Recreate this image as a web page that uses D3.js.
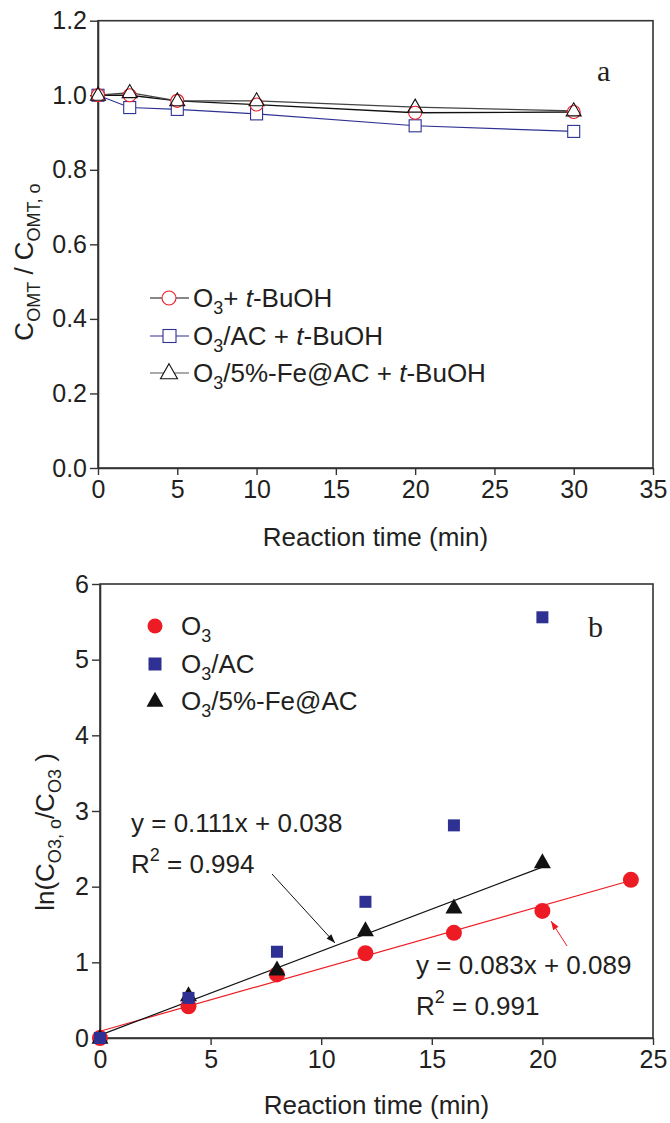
<!DOCTYPE html>
<html><head><meta charset="utf-8">
<script src="https://cdn.jsdelivr.net/npm/d3@7"></script>
<style>body{margin:0;background:#fff}svg{display:block}text{font-family:"Liberation Sans",Arial,sans-serif;fill:#231f20}</style>
</head><body>
<script>
// ---- Panel a data ----
const timeA = [0, 2, 5, 10, 20, 30];
const o3Tbu = [1.0, 1.0, 0.985, 0.975, 0.953, 0.955];
const acTbu = [1.0, 0.967, 0.962, 0.95, 0.918, 0.903];
const feTbu = [1.0, 1.007, 0.985, 0.985, 0.968, 0.958];
const xTicksA = [0, 5, 10, 15, 20, 25, 30, 35];
const yTicksA = [0, 0.2, 0.4, 0.6, 0.8, 1.0, 1.2];
// ---- Panel b data ----
const timeB = [0, 4, 8, 12, 16, 20, 24];
const lnO3 = [0, 0.42, 0.84, 1.12, 1.39, 1.68, 2.09];
const timeBac = [0, 4, 8, 12, 16, 20];
const lnAC = [0, 0.53, 1.14, 1.80, 2.81, 5.56];
const timeBfe = [0, 4, 8, 12, 16, 20];
const lnFe = [0, 0.56, 0.90, 1.42, 1.72, 2.32];
const fitFe = {slope: 0.111, intercept: 0.038, x0: 0, x1: 20};
const fitO3 = {slope: 0.083, intercept: 0.089, x0: 0, x1: 24};
const xTicksB = [0, 5, 10, 15, 20, 25];
const yTicksB = [0, 1, 2, 3, 4, 5, 6];

const RED = "#ed1c24", BLUE = "#2e3192", INK = "#231f20";
const FT = 25;   // tick labels
const FS = 26;   // titles, legends, equations

const svg = d3.select("body").append("svg").attr("width", 670).attr("height", 1123);

function frame(g, x, y) {
  g.append("rect").attr("x", x.range()[0]).attr("y", y.range()[1])
   .attr("width", x.range()[1] - x.range()[0]).attr("height", y.range()[0] - y.range()[1])
   .attr("fill", "none").attr("stroke", "#333").attr("stroke-width", 1.6);
}
function axes(g, x, y, xt, yt, yfmt) {
  const ax = g.append("g").attr("transform", `translate(0,${y.range()[0]})`)
    .call(d3.axisBottom(x).tickValues(xt).tickSizeOuter(0).tickSizeInner(7).tickPadding(5).tickFormat(d3.format("d")));
  const ay = g.append("g").attr("transform", `translate(${x.range()[0]},0)`)
    .call(d3.axisLeft(y).tickValues(yt).tickSizeOuter(0).tickSizeInner(8).tickPadding(3).tickFormat(yfmt));
  [ax, ay].forEach(a => {
    a.select(".domain").attr("stroke", "#333").attr("stroke-width", 1.6);
    a.selectAll(".tick line").attr("stroke", "#333").attr("stroke-width", 1.4);
    a.selectAll(".tick text").attr("font-size", FT).attr("fill", INK)
     .style("font-family", '"Liberation Sans",Arial,sans-serif');
  });
}
function addRich(t, parts) {
  parts.forEach(p => {
    const ts = t.append("tspan").text(p.t);
    if (p.sub) ts.attr("font-size", p.fs || 18).attr("dy", p.dy || 7);
    if (p.sup) ts.attr("font-size", p.fs || 18).attr("dy", -12);
    if (p.reset) ts.attr("dy", p.reset);
    if (p.it) ts.attr("font-style", "italic");
  });
}
function tri(cx, cy, w, h) {
  return `M${cx},${cy - h * 0.62} L${cx + w / 2},${cy + h * 0.38} L${cx - w / 2},${cy + h * 0.38} Z`;
}

// ================= Panel a =================
const xA = d3.scaleLinear().domain([0, 35]).range([98, 653]);
const yA = d3.scaleLinear().domain([0, 1.2]).range([468, 20.7]);
const gA = svg.append("g");
frame(gA, xA, yA);
axes(gA, xA, yA, xTicksA, yTicksA, d3.format(".1f"));

const lineA = (xs, ys) => d3.line().x((d, i) => xA(xs[i])).y(d => yA(d))(ys);
gA.append("path").attr("d", lineA(timeA, acTbu)).attr("fill", "none").attr("stroke", BLUE).attr("stroke-width", 1.1);
gA.append("path").attr("d", lineA(timeA, o3Tbu)).attr("fill", "none").attr("stroke", "#111").attr("stroke-width", 1.3);
gA.append("path").attr("d", lineA(timeA, feTbu)).attr("fill", "none").attr("stroke", "#444").attr("stroke-width", 1.3);

gA.selectAll(".sqA").data(acTbu).enter().append("rect")
  .attr("x", (d, i) => xA(timeA[i]) - 6).attr("y", d => yA(d) - 6).attr("width", 12).attr("height", 12)
  .attr("fill", "#fff").attr("stroke", BLUE).attr("stroke-width", 1.1);
gA.selectAll(".ciA").data(o3Tbu).enter().append("circle")
  .attr("cx", (d, i) => xA(timeA[i])).attr("cy", d => yA(d)).attr("r", 6.5)
  .attr("fill", "#fff").attr("stroke", RED).attr("stroke-width", 1.1);
gA.selectAll(".trA").data(feTbu).enter().append("path")
  .attr("d", (d, i) => tri(xA(timeA[i]), yA(d), 15, 13))
  .attr("fill", "#fff").attr("fill-opacity", 0).attr("stroke", "#111").attr("stroke-width", 1.1);

// legend a
const legA = [
  {y: 298, col: "#111", mk: "c", parts: [{t: "O"}, {t: "3", sub: true}, {t: "+ ", reset: -7}, {t: "t", it: true}, {t: "-BuOH"}]},
  {y: 336, col: BLUE, mk: "s", parts: [{t: "O"}, {t: "3", sub: true}, {t: "/AC + ", reset: -7}, {t: "t", it: true}, {t: "-BuOH"}]},
  {y: 373, col: "#555", mk: "t", parts: [{t: "O"}, {t: "3", sub: true}, {t: "/5%-Fe@AC + ", reset: -7}, {t: "t", it: true}, {t: "-BuOH"}]}
];
legA.forEach(r => {
  gA.append("line").attr("x1", 150).attr("x2", 189).attr("y1", r.y).attr("y2", r.y).attr("stroke", r.col).attr("stroke-width", 1.2);
  if (r.mk === "c") gA.append("circle").attr("cx", 169).attr("cy", r.y).attr("r", 7).attr("fill", "#fff").attr("stroke", RED).attr("stroke-width", 1.1);
  if (r.mk === "s") gA.append("rect").attr("x", 163).attr("y", r.y - 6.5).attr("width", 13).attr("height", 13).attr("fill", "#fff").attr("stroke", BLUE).attr("stroke-width", 1.1);
  if (r.mk === "t") gA.append("path").attr("d", tri(169, r.y, 17, 15)).attr("fill", "#fff").attr("stroke", "#111").attr("stroke-width", 1.1);
  const t = gA.append("text").attr("x", 193).attr("y", r.y + 9).attr("font-size", FS);
  addRich(t, r.parts);
});

gA.append("text").attr("x", 597).attr("y", 81).attr("font-size", 30).style("font-family", '"Liberation Serif","Times New Roman",serif').text("a");
gA.append("text").attr("x", (xA.range()[0] + xA.range()[1]) / 2).attr("y", 546).attr("text-anchor", "middle").attr("font-size", FS).text("Reaction time (min)");
{
  const t = gA.append("text").attr("transform", `translate(33,262) rotate(-90)`).attr("text-anchor", "middle").attr("font-size", FS);
  addRich(t, [{t: "C"}, {t: "OMT", sub: true}, {t: " / C", reset: -7}, {t: "OMT, o", sub: true}]);
}

// ================= Panel b =================
const xB = d3.scaleLinear().domain([0, 25]).range([100, 653]);
const yB = d3.scaleLinear().domain([0, 6]).range([1038, 584]);
const gB = svg.append("g");
frame(gB, xB, yB);
axes(gB, xB, yB, xTicksB, yTicksB, d3.format("d"));

const fitLine = f => d3.line().x(d => xB(d)).y(d => yB(f.slope * d + f.intercept))([f.x0, f.x1]);
gB.append("path").attr("d", fitLine(fitO3)).attr("stroke", RED).attr("stroke-width", 1.2).attr("fill", "none");
gB.append("path").attr("d", fitLine(fitFe)).attr("stroke", "#111").attr("stroke-width", 1.2).attr("fill", "none");

gB.selectAll(".ciB").data(lnO3).enter().append("circle")
  .attr("cx", (d, i) => xB(timeB[i])).attr("cy", d => yB(d)).attr("r", 8).attr("fill", RED);
gB.selectAll(".trB").data(lnFe).enter().append("path")
  .attr("d", (d, i) => tri(xB(timeBfe[i]), yB(d), 17, 15)).attr("fill", "#111");
gB.selectAll(".sqB").data(lnAC).enter().append("rect")
  .attr("x", (d, i) => xB(timeBac[i]) - 6).attr("y", d => yB(d) - 6).attr("width", 12).attr("height", 12).attr("fill", BLUE);

// legend b
const legB = [
  {y: 626, mk: "c", parts: [{t: "O"}, {t: "3", sub: true}]},
  {y: 664, mk: "s", parts: [{t: "O"}, {t: "3", sub: true}, {t: "/AC", reset: -7}]},
  {y: 701, mk: "t", parts: [{t: "O"}, {t: "3", sub: true}, {t: "/5%-Fe@AC", reset: -7}]}
];
legB.forEach(r => {
  if (r.mk === "c") gB.append("circle").attr("cx", 155).attr("cy", r.y).attr("r", 7.5).attr("fill", RED);
  if (r.mk === "s") gB.append("rect").attr("x", 148.5).attr("y", r.y - 6.5).attr("width", 13).attr("height", 13).attr("fill", BLUE);
  if (r.mk === "t") gB.append("path").attr("d", tri(155, r.y, 17, 15)).attr("fill", "#111");
  const t = gB.append("text").attr("x", 181).attr("y", r.y + 9).attr("font-size", FS);
  addRich(t, r.parts);
});

gB.append("text").attr("x", 588).attr("y", 637).attr("font-size", 30).style("font-family", '"Liberation Serif","Times New Roman",serif').text("b");

// equations
gB.append("text").attr("x", 131).attr("y", 832).attr("font-size", FS).text("y = 0.111x + 0.038");
addRich(gB.append("text").attr("x", 131).attr("y", 873).attr("font-size", FS), [{t: "R"}, {t: "2", sup: true}, {t: " = 0.994", reset: 12}]);
gB.append("text").attr("x", 416).attr("y", 974).attr("font-size", FS).text("y = 0.083x + 0.089");
addRich(gB.append("text").attr("x", 416).attr("y", 1015).attr("font-size", FS), [{t: "R"}, {t: "2", sup: true}, {t: " = 0.991", reset: 12}]);

// arrows
function arrow(x1, y1, x2, y2, col) {
  gB.append("line").attr("x1", x1).attr("y1", y1).attr("x2", x2).attr("y2", y2).attr("stroke", col).attr("stroke-width", 1);
  const a = Math.atan2(y2 - y1, x2 - x1), L = 9, W = 3.2;
  const bx = x2 - L * Math.cos(a), by = y2 - L * Math.sin(a);
  gB.append("path").attr("d", `M${x2},${y2} L${bx + W * Math.sin(a)},${by - W * Math.cos(a)} L${bx - W * Math.sin(a)},${by + W * Math.cos(a)} Z`).attr("fill", col);
}
arrow(272, 874, 335, 943, "#111");
arrow(567, 946, 551, 921, RED);

gB.append("text").attr("x", (xB.range()[0] + xB.range()[1]) / 2).attr("y", 1114).attr("text-anchor", "middle").attr("font-size", FS).text("Reaction time (min)");
{
  const t = gB.append("text").attr("transform", `translate(54,832) rotate(-90)`).attr("text-anchor", "middle").attr("font-size", FS);
  addRich(t, [{t: "ln(C"}, {t: "O3, o", sub: true}, {t: "/C", reset: -7}, {t: "O3", sub: true}, {t: " )", reset: -7}]);
}
</script>
</body></html>
